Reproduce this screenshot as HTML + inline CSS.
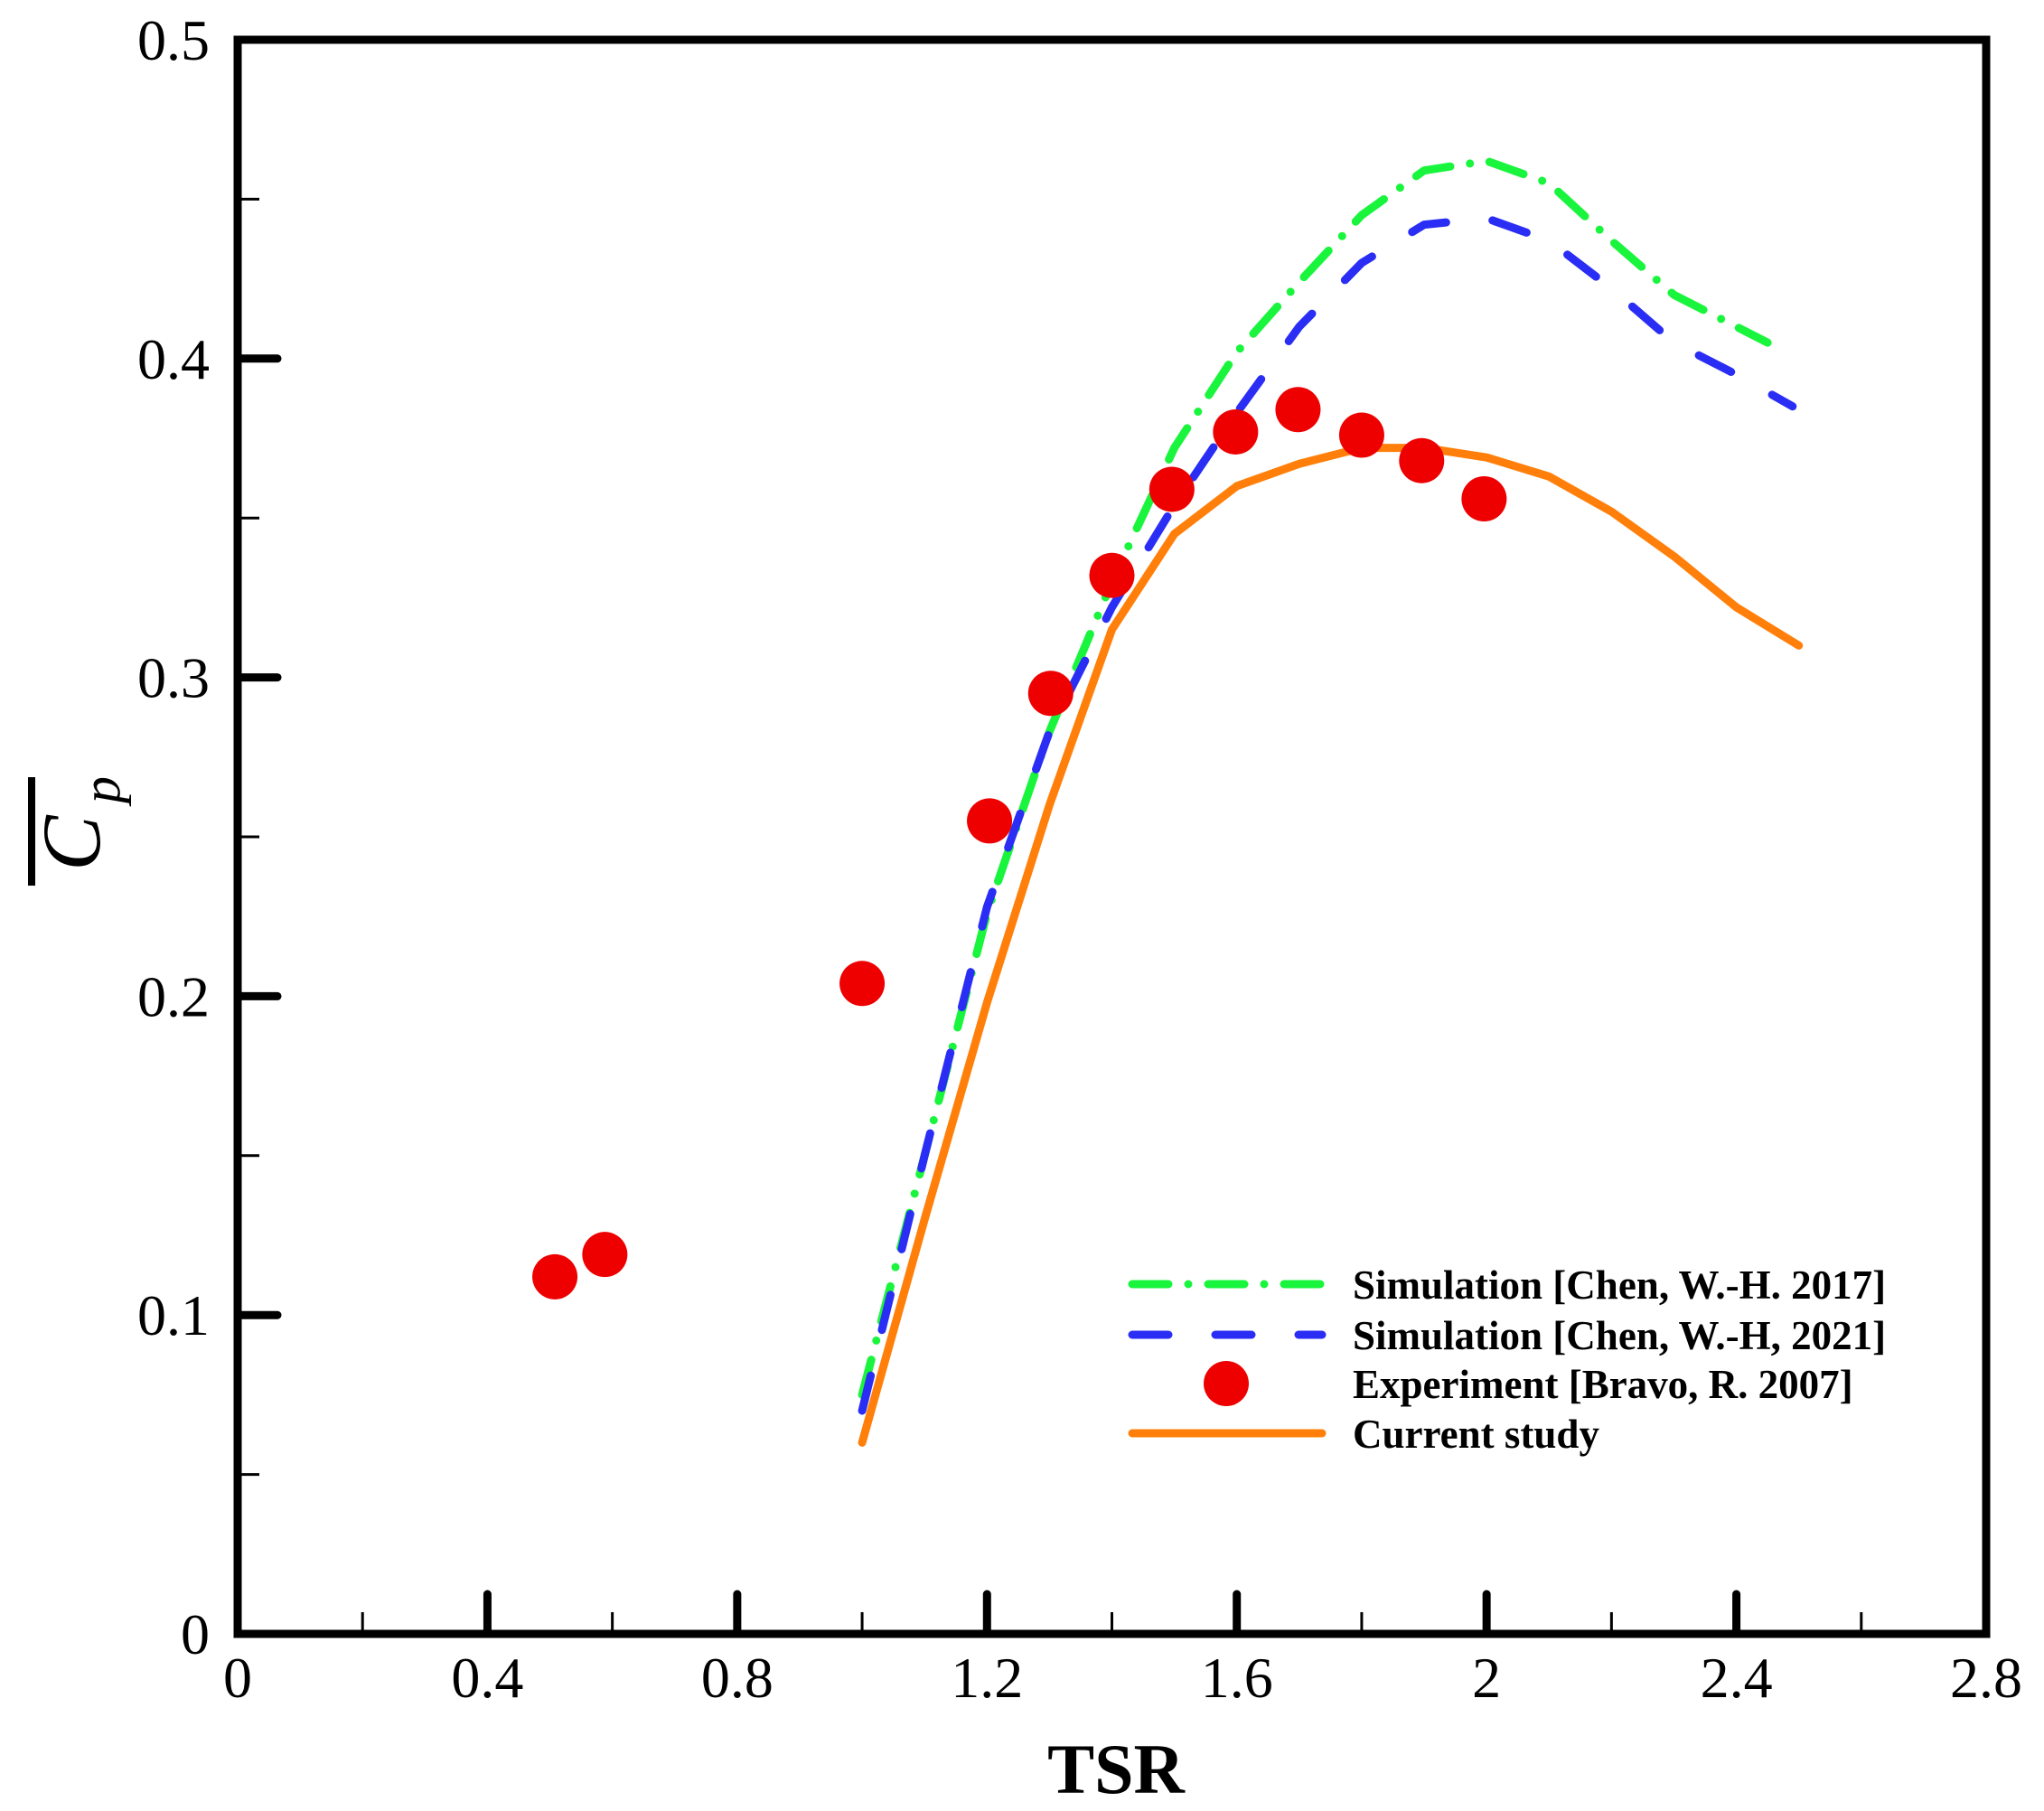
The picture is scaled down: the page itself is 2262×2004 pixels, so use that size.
<!DOCTYPE html>
<html><head><meta charset="utf-8"><style>
html,body{margin:0;padding:0;background:#fff;}
svg{display:block;}
text{font-family:"Liberation Serif",serif;}
</style></head><body>
<svg id="chart" width="2262" height="2004" viewBox="0 0 2262 2004" xmlns="http://www.w3.org/2000/svg">
<g id="marks"></g>
<g id="axes"></g>
<g id="legend">
  <line x1="1253" y1="1421" x2="1463" y2="1421" stroke="#19f53c" stroke-width="9" stroke-linecap="round" stroke-dasharray="40,22,0,22"/>
  <text x="1497" y="1437" font-size="45" font-weight="bold">Simulation [Chen, W.-H. 2017]</text>
  <line x1="1253" y1="1477" x2="1463" y2="1477" stroke="#2a2ef5" stroke-width="9" stroke-linecap="round" stroke-dasharray="40,52"/>
  <text x="1497" y="1493" font-size="45" font-weight="bold">Simulation [Chen, W.-H, 2021]</text>
  <ellipse cx="1357" cy="1531" rx="25" ry="25" fill="#ee0000"/>
  <text x="1497" y="1547" font-size="45" font-weight="bold">Experiment [Bravo, R. 2007]</text>
  <line x1="1253" y1="1586" x2="1463" y2="1586" stroke="#ff7f0a" stroke-width="9" stroke-linecap="round"/>
  <text x="1497" y="1602" font-size="45" font-weight="bold">Current study</text>
</g>
<text x="1235" y="1984" font-size="78" font-weight="bold" text-anchor="middle">TSR</text>
<g transform="translate(80,925) rotate(-90)">
  <line x1="-55" y1="-45" x2="65" y2="-45" stroke="#000" stroke-width="8"/>
  <text x="-8" y="30" font-size="92" font-style="italic" text-anchor="middle">C</text>
  <text x="36" y="52" font-size="60" font-style="italic">p</text>
</g>
</svg>
<script>
const expX = [0.508,0.588,1.0,1.204,1.302,1.4,1.496,1.598,1.698,1.8,1.896,1.996];
const expY = [0.112,0.119,0.204,0.255,0.295,0.332,0.359,0.377,0.384,0.376,0.368,0.356];
const greenX = [1.0,1.1,1.2,1.3,1.4,1.5,1.6,1.7,1.8,1.9,2.0,2.1,2.2,2.3,2.45];
const greenY = [0.075,0.15,0.226,0.283,0.33,0.372,0.402,0.424,0.445,0.459,0.462,0.455,0.437,0.42,0.405];
const blueX = [1.0,1.1,1.2,1.3,1.4,1.5,1.6,1.7,1.8,1.9,2.0,2.1,2.2,2.3,2.4,2.49];
const blueY = [0.07,0.15,0.228,0.283,0.322,0.354,0.383,0.41,0.43,0.442,0.444,0.437,0.422,0.405,0.395,0.385];
const orangeX = [1.0,1.1,1.2,1.3,1.4,1.5,1.6,1.7,1.8,1.9,2.0,2.1,2.2,2.3,2.4,2.5];
const orangeY = [0.06,0.13,0.198,0.26,0.315,0.345,0.36,0.367,0.372,0.372,0.369,0.363,0.352,0.338,0.322,0.31];
const xTicks = [0,0.4,0.8,1.2,1.6,2,2.4,2.8];
const xTickLabels = ["0","0.4","0.8","1.2","1.6","2","2.4","2.8"];
const yTicks = [0,0.1,0.2,0.3,0.4,0.5];
const yTickLabels = ["0","0.1","0.2","0.3","0.4","0.5"];

const L=263,R=2198,T=44,B=1808;
const sx = v => L + v/2.8*(R-L);
const sy = v => B - v/0.5*(B-T);
const NS="http://www.w3.org/2000/svg";
const marks=document.getElementById('marks');
const axes=document.getElementById('axes');
function mk(tag,attrs,parent){const e=document.createElementNS(NS,tag);for(const k in attrs)e.setAttribute(k,attrs[k]);parent.appendChild(e);return e;}

function line(xs,ys,color,dash,name){
  const p=mk('polyline',{points:xs.map((x,i)=>sx(x)+','+sy(ys[i])).join(' '),fill:'none',stroke:color,'stroke-width':9,'stroke-linecap':'round','stroke-linejoin':'round','stroke-dasharray':dash},marks);
  
  
}
line(greenX,greenY,'#19f53c','40,22,0,22','series-sim-2017');
line(blueX,blueY,'#2a2ef5','40,52','series-sim-2021');
line(orangeX,orangeY,'#ff7f0a','none','series-current-study');
expX.forEach((x,i)=>{
  const c=mk('ellipse',{cx:sx(x),cy:sy(expY[i]),rx:25,ry:25,fill:'#ee0000'},marks);
  
  
});

for(let i=1;i<14;i++){const v=i*0.2; if(Math.abs(v/0.4-Math.round(v/0.4))<1e-6) continue;
  const t=mk('line',{x1:sx(v),x2:sx(v),y1:B,y2:B-24,stroke:'#000','stroke-width':3},axes);
  
  
}
for(let i=0;i<5;i++){const v=i*0.1+0.05;
  const t=mk('line',{x1:L,x2:L+24,y1:sy(v),y2:sy(v),stroke:'#000','stroke-width':3},axes);
  
  
}
xTicks.forEach((v,i)=>{
  if(i>0&&i<xTicks.length-1){
    const t=mk('line',{x1:sx(v),x2:sx(v),y1:B,y2:B-44,stroke:'#000','stroke-width':9,'stroke-linecap':'round'},axes);
    
    
  }
  const tx=mk('text',{x:sx(v),y:1878,'font-size':64,'text-anchor':'middle'},axes);
  tx.textContent=xTickLabels[i];
  
  
});
yTicks.forEach((v,i)=>{
  if(i>0&&i<yTicks.length-1){
    const t=mk('line',{x1:L,x2:L+44,y1:sy(v),y2:sy(v),stroke:'#000','stroke-width':9,'stroke-linecap':'round'},axes);
    
    
  }
  const tx=mk('text',{x:232,y:sy(v)+22,'font-size':64,'text-anchor':'end'},axes);
  tx.textContent=yTickLabels[i];
  
  
});
const frame=mk('rect',{x:L,y:T,width:R-L,height:B-T,fill:'none',stroke:'#000','stroke-width':9},axes);


</script>
</body></html>
